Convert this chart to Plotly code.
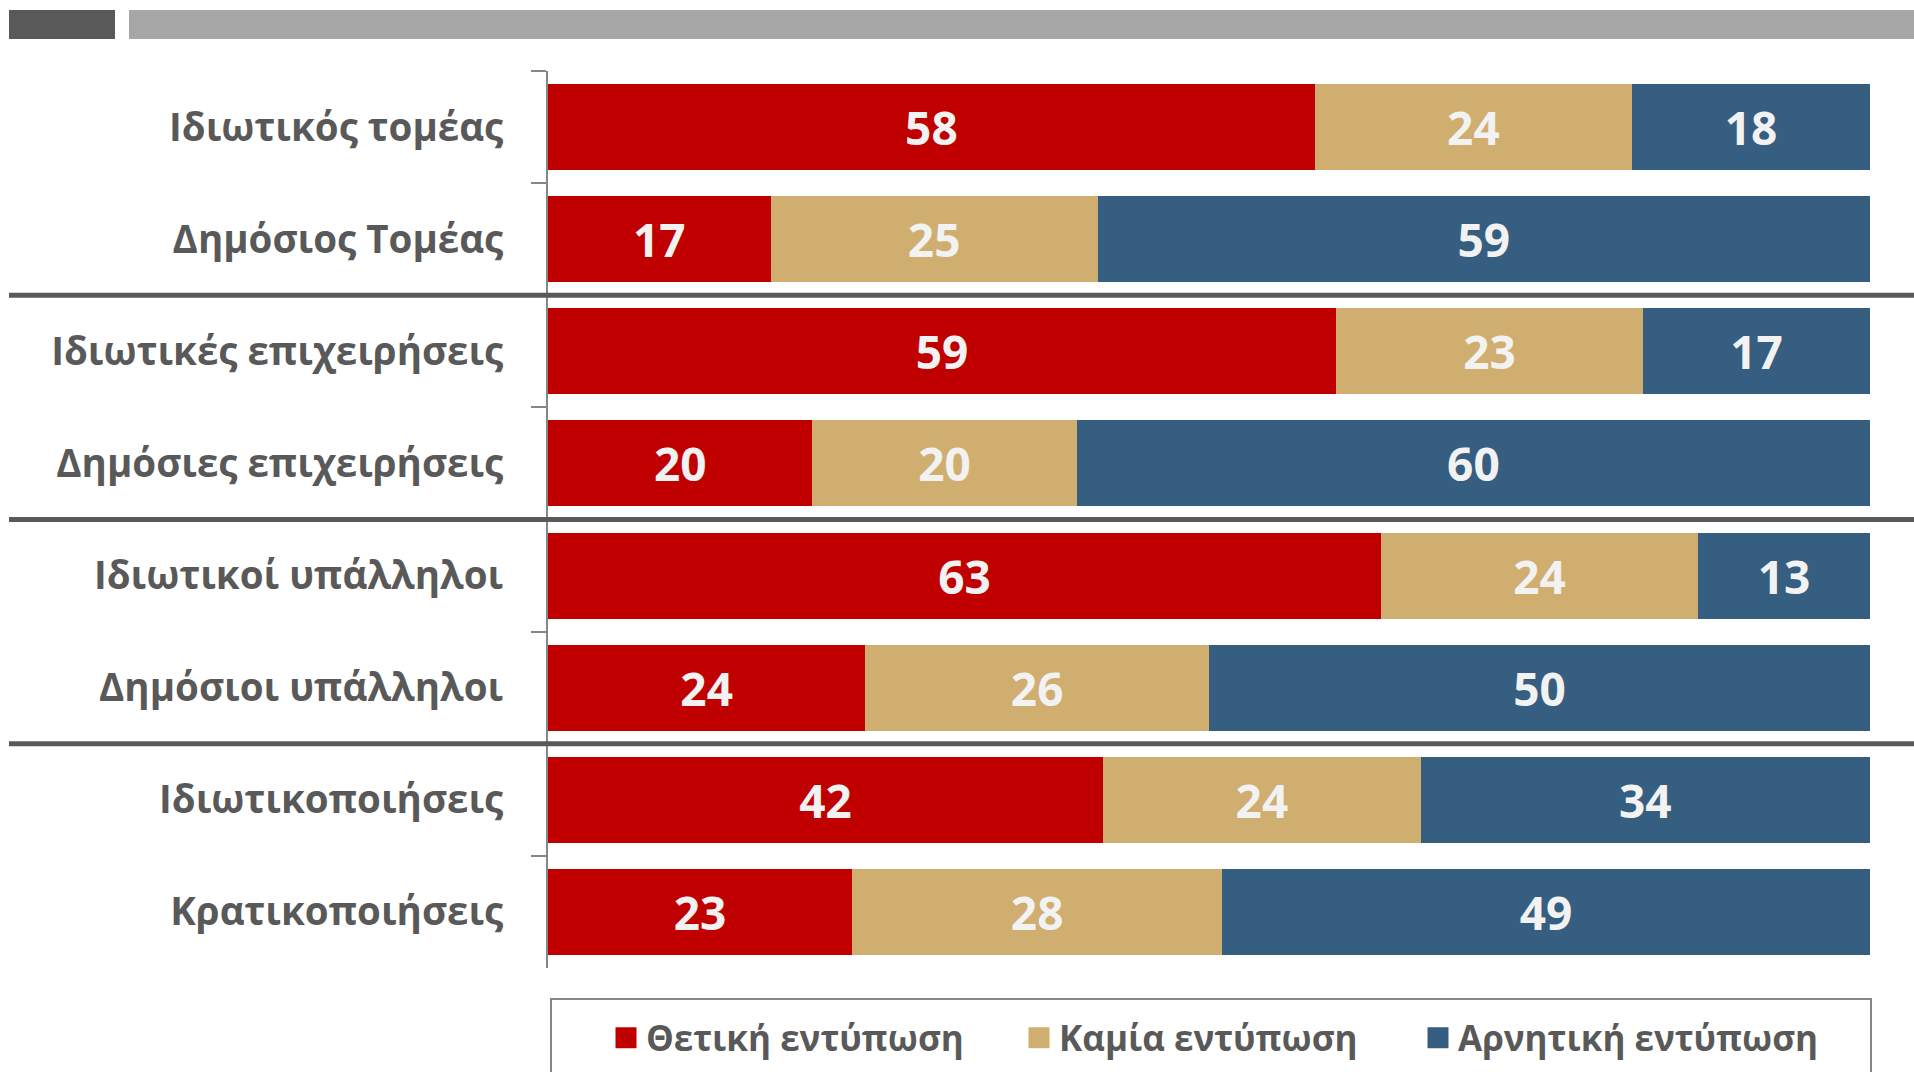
import plotly.graph_objects as go

# ---- data ----
categories = [
    "Ιδιωτικός τομέας",
    "Δημόσιος Τομέας",
    "Ιδιωτικές επιχειρήσεις",
    "Δημόσιες επιχειρήσεις",
    "Ιδιωτικοί υπάλληλοι",
    "Δημόσιοι υπάλληλοι",
    "Ιδιωτικοποιήσεις",
    "Κρατικοποιήσεις",
]
positive = [58, 17, 59, 20, 63, 24, 42, 23]
neutral = [24, 25, 23, 20, 24, 26, 24, 28]
negative = [18, 59, 17, 60, 13, 50, 34, 49]
series_names = ["Θετική εντύπωση", "Καμία εντύπωση", "Αρνητική εντύπωση"]
separator_after = [1, 3, 5]  # category index after which a group separator is drawn

# ---- style ----
colors = ["#C00000", "#CFAE70", "#365E80"]
FONT = "Open Sans"
W, H = 1914, 1072
L, R, T, B = 548, 44, 71, 104
plot_w = W - L - R
plot_h = H - T - B


def px_x(px):
    return (px - L) / plot_w


def px_y(py):
    return (H - B - py) / plot_h


fig = go.Figure()
for vals, name, col in zip([positive, neutral, negative], series_names, colors):
    fig.add_trace(go.Bar(
        y=categories, x=vals, orientation="h", name=name,
        marker=dict(color=col, line=dict(width=0)),
        text=[str(v) for v in vals], textposition="inside",
        insidetextanchor="middle",
        textfont=dict(family=FONT, size=46, color="#F2F2F2", weight="bold"),
        showlegend=False, hoverinfo="skip",
    ))

# legend entries (square symbols), one legend per entry for exact placement
legend_ids = ["legend", "legend2", "legend3"]
legend_left_px = [606, 1019, 1418]
for name, col, lid in zip(series_names, colors, legend_ids):
    fig.add_trace(go.Scatter(
        x=[None], y=[None], mode="markers", name=name,
        marker=dict(symbol="square", size=16, color=col, line=dict(color=col, width=5)),
        showlegend=True, legend=lid,
    ))

shapes = []
# header bars
shapes.append(dict(type="rect", xref="paper", yref="paper",
                   x0=px_x(9), x1=px_x(115), y0=px_y(39), y1=px_y(10),
                   fillcolor="#595959", line=dict(width=0), layer="above"))
shapes.append(dict(type="rect", xref="paper", yref="paper",
                   x0=px_x(129), x1=px_x(1914), y0=px_y(39), y1=px_y(10),
                   fillcolor="#A6A6A6", line=dict(width=0), layer="above"))
# group separators
for i in separator_after:
    shapes.append(dict(type="line", xref="paper", yref="y",
                       x0=px_x(9), x1=px_x(1914), y0=i + 0.5, y1=i + 0.5,
                       line=dict(color="#595959", width=5), layer="above"))
# legend box
shapes.append(dict(type="rect", xref="paper", yref="paper",
                   x0=px_x(551), x1=px_x(1871), y0=px_y(1120), y1=px_y(999),
                   fillcolor="rgba(0,0,0,0)", line=dict(color="#878787", width=2),
                   layer="above"))

legend_style = dict(
    orientation="h", xanchor="left", y=px_y(1038), yanchor="middle",
    font=dict(family=FONT, size=35, color="#595959", weight="bold"),
    bgcolor="rgba(0,0,0,0)", borderwidth=0, itemsizing="trace",
)
legends = {}
for lid, lx in zip(legend_ids, legend_left_px):
    legends[lid] = dict(legend_style, x=px_x(lx))

fig.update_layout(
    width=W, height=H,
    margin=dict(l=L, r=R, t=T, b=B, pad=0, autoexpand=False),
    paper_bgcolor="white", plot_bgcolor="white",
    barmode="stack", barnorm="percent", bargap=0.233,
    shapes=shapes,
    showlegend=True,
    xaxis=dict(range=[0, 100], visible=False, fixedrange=True),
    yaxis=dict(
        type="category", autorange="reversed",
        showline=True, linecolor="#868686", linewidth=2,
        ticks="outside", tickson="boundaries", ticklen=15, tickwidth=2,
        tickcolor="#868686", ticklabelstandoff=35,
        tickfont=dict(family=FONT, size=38.5, color="#595959", weight="bold"),
        showgrid=False, zeroline=False, fixedrange=True,
    ),
    **legends,
)

fig.write_html(
    "out.html",
    config={"displayModeBar": False},
    post_script="document.body.style.margin='0px';document.body.style.padding='0px';",
)
